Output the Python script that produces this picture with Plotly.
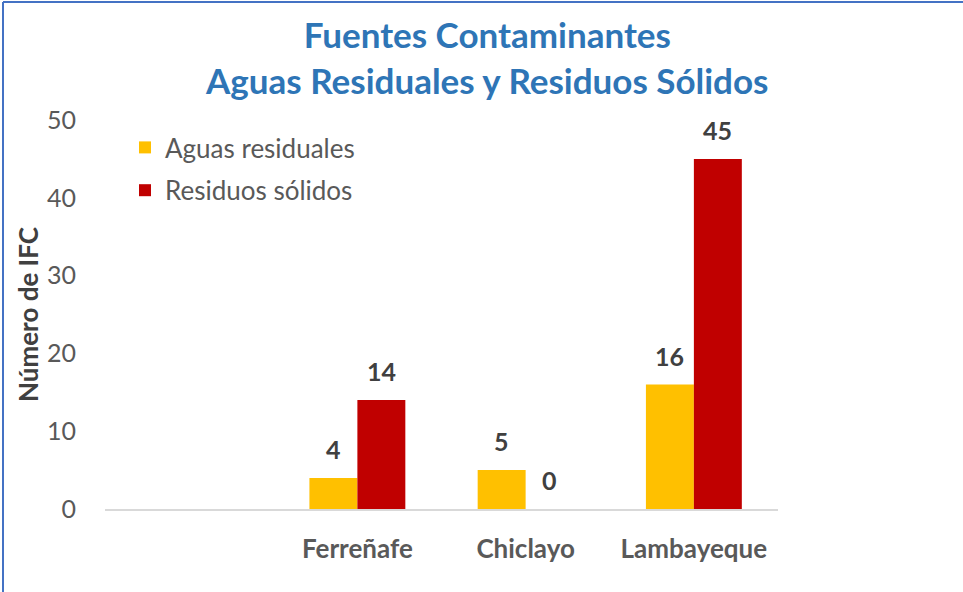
import plotly.graph_objects as go

categories = [" ", "Ferreñafe", "Chiclayo", "Lambayeque"]
aguas_residuales = [None, 4, 5, 16]
residuos_solidos = [None, 14, 0, 45]
series_names = ["Aguas residuales", "Residuos sólidos"]
title_lines = ["Fuentes Contaminantes", "Aguas Residuales y Residuos Sólidos"]
y_title = "Número de IFC"
y_ticks = [0, 10, 20, 30, 40, 50]

W, H = 963, 592
ML, MR, MT, MB = 105, 185, 120, 83
PW, PH = W - ML - MR, H - MT - MB

FONT = "Lato, 'Open Sans', sans-serif"
colors = ["#FFC000", "#C00000"]

fig = go.Figure()
for name, vals, col in zip(series_names, [aguas_residuales, residuos_solidos], colors):
    fig.add_trace(go.Bar(x=categories, y=vals, name=name, legendgroup=name,
                         marker=dict(color=col, line=dict(width=0))))

annotations = []
for i, vals in enumerate([aguas_residuales, residuos_solidos]):
    for c, v in zip(categories, vals):
        if v is None:
            continue
        annotations.append(dict(
            x=c, y=v, xref="x", yref="y", text=f"<b>{v}</b>", showarrow=False,
            xanchor="center", yanchor="bottom", yshift=12,
            xshift=(-24 if i == 0 else 24),
            font=dict(family=FONT, size=25, color="#404040")))

fig.update_layout(
    width=W, height=H,
    margin=dict(l=ML, r=MR, t=MT, b=MB),
    paper_bgcolor="white", plot_bgcolor="white",
    barmode="group", bargap=0.43, bargroupgap=0,
    title=dict(text="<b>" + "<br>".join(title_lines) + "</b>", x=0.506, xanchor="center",
               yref="container", y=1 - 48 / H, yanchor="middle",
               font=dict(family=FONT, size=35, color="#2E75B6")),
    legend=dict(x=(125 - ML) / PW, y=(509 - 124) / PH, xanchor="left", yanchor="top",
                tracegroupgap=6,
                bgcolor="rgba(0,0,0,0)", font=dict(family=FONT, size=26, color="#595959")),
    xaxis=dict(type="category", categoryorder="array", categoryarray=categories,
               showgrid=False, showline=True, linecolor="#D9D9D9", linewidth=2,
               ticks="", ticklabelstandoff=16,
               tickfont=dict(family=FONT, size=26, color="#595959", weight="bold")),
    yaxis=dict(range=[0, 50], tickvals=y_ticks, showgrid=False, zeroline=False,
               showline=False, ticks="", ticklabelstandoff=28,
               tickfont=dict(family=FONT, size=25, color="#595959"),
               title=dict(text=f"<b>{y_title}</b>", standoff=0,
                          font=dict(family=FONT, size=26, color="#404040"))),
    annotations=annotations,
    shapes=[
        dict(type="line", xref="paper", yref="paper",
             x0=(3 - ML) / PW, x1=(W - ML) / PW, y0=(H - MB - 2) / PH, y1=(H - MB - 2) / PH,
             line=dict(color="#4472C4", width=2)),
        dict(type="line", xref="paper", yref="paper",
             x0=(3 - ML) / PW, x1=(3 - ML) / PW, y0=(H - MB - 2) / PH, y1=-MB / PH,
             line=dict(color="#4472C4", width=2)),
    ],
)

fig.write_html("out.html", config={"displayModeBar": False},
               post_script="document.body.style.margin='0';")
